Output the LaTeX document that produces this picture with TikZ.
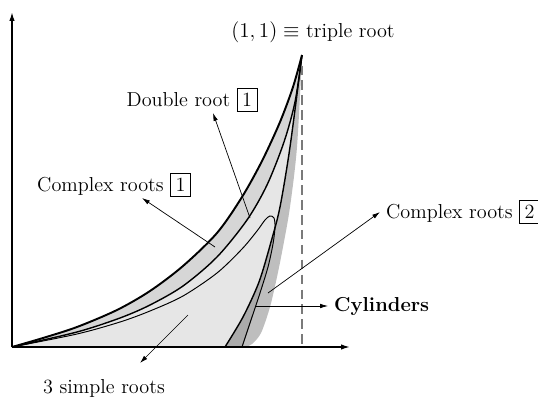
\documentclass[tikz,border=0pt]{standalone}
\usepackage{tikz}
\usepackage{amsmath}
\usepackage{amssymb}
\usepackage{xcolor}
\usetikzlibrary{arrows.meta, calc}
\definecolor{bandgray}{HTML}{D6D6D6}
\definecolor{regiongray}{HTML}{E6E6E6}
\definecolor{cylgray}{HTML}{ABABAB}
\definecolor{shadegray}{HTML}{BEBEBE}
\definecolor{dashgray}{HTML}{7A7A7A}
\setlength{\fboxsep}{2.6pt}

\begin{document}
\begin{tikzpicture}[
    x=0.02cm, y=0.02cm,
    every node/.style={font=\fontsize{11.5}{14}\selectfont},
    ax/.style={line width=0.8pt, -{Latex[length=5pt,width=3pt]}},
    pointer/.style={line width=0.4pt, -{Latex[length=4.5pt,width=2.6pt]}},
    outerline/.style={line width=1.1pt},
    rootline/.style={line width=0.8pt},
    loopline/.style={line width=0.55pt}
]
\useasboundingbox (-12,-53) rectangle (526,347);
\coordinate (O) at (0,0);
\coordinate (T) at (290,292);
\coordinate (xend) at (338,0);
\coordinate (yend) at (0,335);
\coordinate (foot) at (290,0);

% Shaded regions
\fill[shadegray] plot[smooth] coordinates {(0,0) (31,9) (65,20) (105,37) (138,56) (171,81) (205,114) (230,150) (250,186) (268,225) (281,260) (290,292)}
    -- plot[smooth] coordinates {(290,292) (285,200) (278,140) (271,100) (265,70) (258,40) (249,14) (240,3) (234,0)} -- cycle;
\fill[cylgray] plot[smooth] coordinates {(0,0) (65,13) (108,25) (138,36) (171,51) (205,74) (230,98) (245,116) (253,127) (258,131) (262,129) (263,120) (261,103) (256,80) (248,54) (239,27) (230,0)} -- cycle;
\fill[bandgray] plot[smooth] coordinates {(0,0) (31,9) (65,20) (105,37) (138,56) (171,81) (205,114) (230,150) (250,186) (268,225) (281,260) (290,292)}
    -- plot[smooth] coordinates {(290,292) (278,200) (268,140) (259,105) (247,65) (231,30) (213,0)} -- cycle;
\fill[regiongray] plot[smooth] coordinates {(0,0) (65,15) (108,29) (138,42) (171,61) (205,90) (235,127) (255,162) (272,205) (283,245) (290,292)}
    -- plot[smooth] coordinates {(290,292) (278,200) (268,140) (259,105) (247,65) (231,30) (213,0)} -- cycle;

% Boundary curves
\draw[loopline] plot[smooth] coordinates {(0,0) (65,13) (108,25) (138,36) (171,51) (205,74) (230,98) (245,116) (253,127) (258,131) (262,129) (263,120) (261,103) (256,80) (248,54) (239,27) (230,0)};
\draw[rootline] plot[smooth] coordinates {(290,292) (278,200) (268,140) (259,105) (247,65) (231,30) (213,0)};
\draw[rootline] plot[smooth] coordinates {(0,0) (65,15) (108,29) (138,42) (171,61) (205,90) (235,127) (255,162) (272,205) (283,245) (290,292)};
\draw[outerline] plot[smooth] coordinates {(0,0) (31,9) (65,20) (105,37) (138,56) (171,81) (205,114) (230,150) (250,186) (268,225) (281,260) (290,292)};

% Axes
\draw[dashgray, line width=1pt, dash pattern=on 5.5pt off 3pt] ([yshift=-6]T) -- (foot);
\draw[ax] (O) -- (xend);
\draw[ax] (O) -- (yend);

% Labels
\node (triple) at (301,315) {$(1,1)\equiv$ triple root};
\node (dbl) at (180,247) {Double root \fbox{1}};
\node (cxa) at (102,162) {Complex roots \fbox{1}};
\node[anchor=west] (cxb) at (368,135) {Complex roots \fbox{2}};
\node[anchor=west] (cyl) at (316,41) {\textbf{Cylinders}};
\node (simple) at (92,-41) {3 simple roots};

% Pointers
\coordinate (dbltail) at (238,129);
\coordinate (cxatail) at (203,100);
\coordinate (cxbtail) at (256,54);
\coordinate (cyltail) at (243,41);
\coordinate (simpletail) at (176,32);
\draw[pointer] (dbltail) -- ($(dbl)+(21,-13)$);
\draw[pointer] (cxatail) -- ($(cxa)+(28,-13)$);
\draw[pointer] (cxbtail) -- (cxb.west);
\draw[pointer] (cyltail) -- (cyl.west);
\draw[pointer] (simpletail) -- ($(simple)+(36,25)$);
\end{tikzpicture}
\end{document}
